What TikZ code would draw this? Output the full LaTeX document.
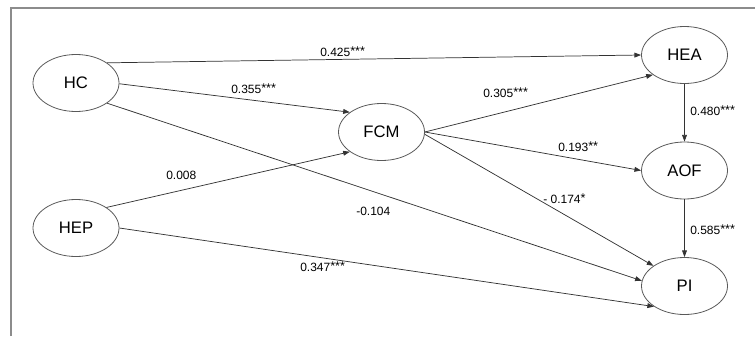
\documentclass[tikz,border=0pt]{standalone}
\usepackage{fontspec}
\setmainfont{Liberation Sans}
\usetikzlibrary{shapes.geometric,arrows.meta}
\newcommand{\stars}[1]{\raisebox{0.5pt}{\fontsize{9.5}{10}\selectfont #1}}
\begin{document}
\begin{tikzpicture}[x=0.75pt,y=-0.75pt,
  var/.style={ellipse,draw=black!65,line width=0.6pt,minimum width=64.5pt,minimum height=42.75pt,inner sep=0pt,font=\fontsize{12.5}{14}\selectfont},
  link/.style={draw=black!80,line width=0.55pt,-{Triangle[length=5pt,width=3.6pt]}},
  lbl/.style={anchor=base west,inner sep=0pt,font=\fontsize{9}{10}\selectfont}]
\useasboundingbox (0,0) rectangle (755,336);
\draw[black!45,line width=0.8pt] (11,336) -- (11,8) -- (755,8);

\node[var] (HC) at (76,83) {HC};
\node[var] (HEP) at (76,228) {HEP};
\node[var] (FCM) at (381.5,132) {FCM};
\node[var] (HEA) at (684.5,55) {HEA};
\node[var] (AOF) at (684.5,170.5) {AOF};
\node[var] (PI) at (684.5,286) {PI};

\draw[link] (HC.33) -- (HEA.180);
\draw[link] (HC.-1) -- (FCM.148);
\draw[link] (HC.-33) -- (PI.173);
\draw[link] (HEP.34) -- (FCM.212);
\draw[link] (HEP.0) -- (PI.214);
\draw[link] (FCM.0) -- (HEA.212);
\draw[link] (FCM.0) -- (AOF.180);
\draw[link] (FCM.-3) -- (PI.147);
\draw[link] (HEA.south) -- (AOF.north);
\draw[link] (AOF.south) -- (PI.north);

\node[lbl] (l1) at (320,56) {0.425\stars{***}};
\node[lbl] (l2) at (231,93) {0.355\stars{***}};
\node[lbl] (l3) at (166,179) {0.008};
\node[lbl] (l4) at (356,215) {-0.104};
\node[lbl] (l5) at (300,271) {0.347\stars{***}};
\node[lbl] (l6) at (483,97) {0.305\stars{***}};
\node[lbl] (l7) at (558,151) {0.193\stars{**}};
\node[lbl] (l8) at (543,203) {- 0.174\stars{*}};
\node[lbl] (l9) at (690,115) {0.480\stars{***}};
\node[lbl] (l10) at (690,234) {0.585\stars{***}};
\end{tikzpicture}
\end{document}
